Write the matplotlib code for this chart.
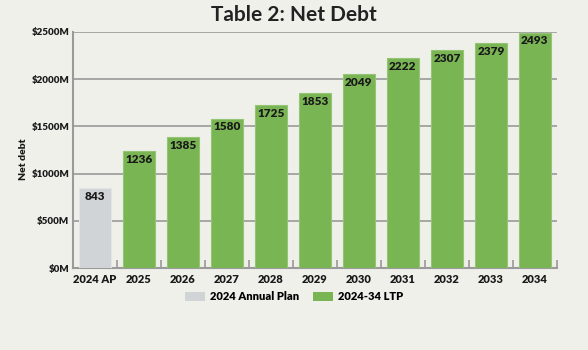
import matplotlib
matplotlib.use("Agg")
import matplotlib.pyplot as plt
from matplotlib.patches import Patch

categories = ["2024 AP", "2025", "2026", "2027", "2028", "2029", "2030", "2031", "2032", "2033", "2034"]
values = [843, 1236, 1385, 1580, 1725, 1853, 2049, 2222, 2307, 2379, 2493]
series = ["2024 Annual Plan"] + ["2024-34 LTP"] * 10
yticks = [0, 500, 1000, 1500, 2000, 2500]
ytick_labels = ["$0M", "$500M", "$1000M", "$1500M", "$2000M", "$2500M"]

plt.rcParams['font.family'] = ['Lato', 'DejaVu Sans']
BG = "#F0F0EB"
colors = {"2024 Annual Plan": "#D1D4D7", "2024-34 LTP": "#7AB554"}
edges = {"2024 Annual Plan": "#E2E4E6", "2024-34 LTP": "#93C572"}
W = "heavy"

fig = plt.figure(figsize=(5.88, 3.5), dpi=100, facecolor=BG)
ax = fig.add_axes([0.124, 0.234, 0.823, 0.675], facecolor=BG)

x = list(range(len(categories)))
ax.bar(x, values, width=0.73,
       color=[colors[s] for s in series],
       edgecolor=[edges[s] for s in series], linewidth=0.8, zorder=3)
for xi, v in zip(x, values):
    ax.text(xi, v - 28, f"{v}", ha="center", va="top", fontsize=8.5,
            fontweight=W, color="#1a1a1a", zorder=4)

ax.set_xlim(-0.5, 10.5)
ax.set_ylim(0, 2500)
ax.set_yticks(yticks)
ax.set_yticklabels(ytick_labels, fontsize=7, fontweight=W, color="#1a1a1a")
ax.set_xticks(x)
ax.set_xticklabels(categories, fontsize=8, fontweight=W, color="#1a1a1a")
ax.tick_params(axis="x", length=0, pad=4)
ax.tick_params(axis="y", length=0, pad=2.5)
ax.set_xticks([i + 0.5 for i in range(len(categories))], minor=True)
ax.tick_params(axis="x", which="minor", direction="in", length=6, width=1.2, color="#999999")

ax.yaxis.grid(True, color="#9a9a9a", linewidth=1.2, zorder=1)
for s in ["top", "right"]:
    ax.spines[s].set_visible(False)
ax.spines["left"].set_color("#9a9a9a")
ax.spines["left"].set_linewidth(1.5)
ax.spines["bottom"].set_color("#9a9a9a")
ax.spines["bottom"].set_linewidth(1.5)

ax.set_ylabel("Net debt", fontsize=7.5, fontweight=W, color="#1a1a1a")
ax.yaxis.set_label_coords(-0.092, 0.46)

fig.suptitle("Table 2: Net Debt", fontsize=15, fontweight="bold", color="#222222", y=0.985)

handles = [Patch(facecolor=colors["2024 Annual Plan"]), Patch(facecolor=colors["2024-34 LTP"])]
fig.legend(handles, ["2024 Annual Plan", "2024-34 LTP"], loc="center",
           bbox_to_anchor=(0.5, 0.152), ncol=2, frameon=False,
           prop={"size": 8, "weight": W}, handlelength=1.8, handleheight=0.9,
           columnspacing=1.2, handletextpad=0.5)

fig.savefig("out.png", dpi=100, facecolor=BG)
